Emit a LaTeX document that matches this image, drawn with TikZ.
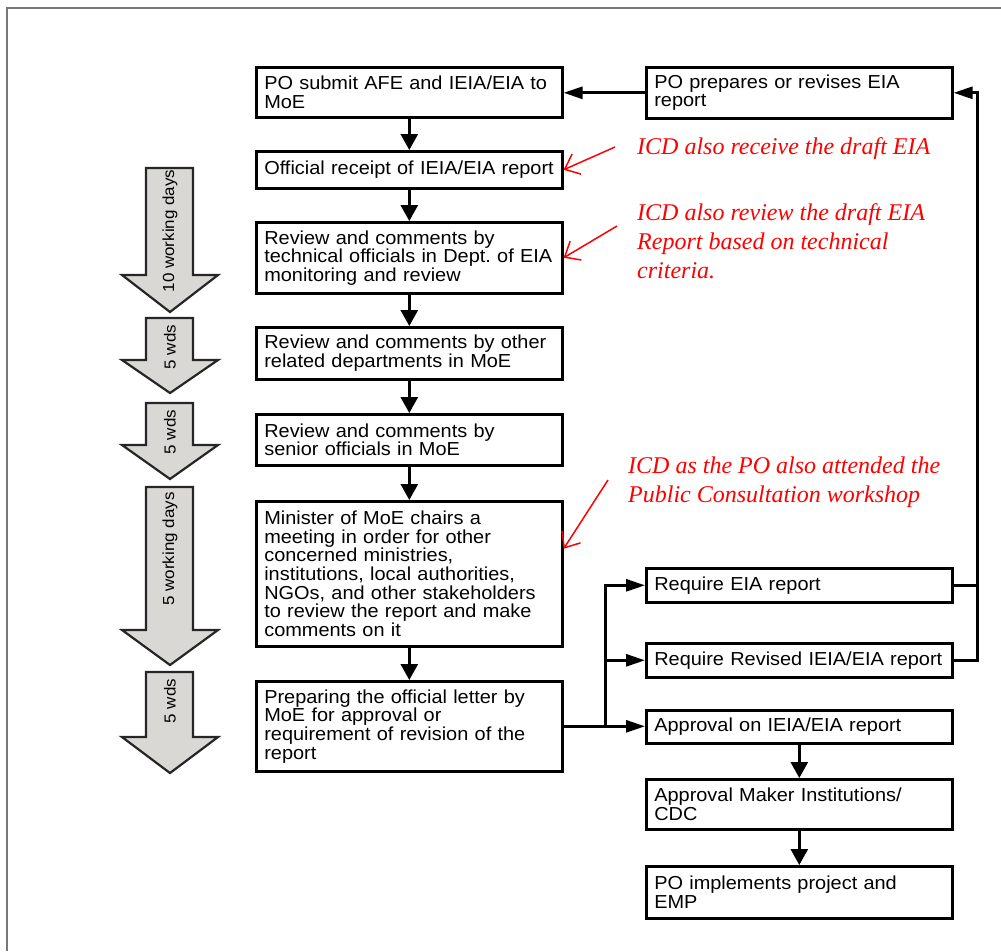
\documentclass[tikz,border=0pt]{standalone}
\usepackage{fontspec}
\setmainfont{Liberation Sans}
\newfontfamily\boxfont{Liberation Sans}[FakeStretch=1.06]
\newfontfamily\notefont{Liberation Serif}
\usetikzlibrary{arrows.meta}
\definecolor{arrowgray}{RGB}{218,216,212}
\definecolor{framegray}{RGB}{120,120,120}
\newcommand\wdarrow[3]{%
  \draw[blockarr] (146,#1) -- (193,#1) -- (193,#2) -- (218,#2) -- (170,#3) -- (122,#2) -- (146,#2) -- cycle;}
\begin{document}
\begin{tikzpicture}[x=1pt,y=-1pt,
  box/.style={draw, line width=2.6pt, minimum width=306pt, text width=290pt,
    inner xsep=8pt, inner ysep=0pt, align=left, anchor=north west,
    font=\boxfont\fontsize{18.8}{18.6}\selectfont},
  conn/.style={line width=2.8pt, -{Triangle[width=17pt,length=16pt]}},
  hconn/.style={line width=2.8pt, -{Triangle[width=12pt,length=19pt]}},
  line/.style={line width=2.8pt},
  blockarr/.style={draw=black!85, line width=2.2pt, fill=arrowgray, line join=miter},
  wdlabel/.style={rotate=90, font=\boxfont\fontsize{16}{18}\selectfont, inner sep=0pt},
  note/.style={text=red, font=\notefont\itshape\fontsize{24}{29}\selectfont, align=left, anchor=north west, inner sep=0pt},
  redarr/.style={red, line width=1.5pt, -{Straight Barb[length=13pt,width=22pt,line width=1.5pt]}}
]
\useasboundingbox (0,0) rectangle (1001,951);
\draw[framegray, line width=2pt] (1001,8) -- (7,8) -- (7,951);

% left column
\node[box, minimum height=50pt] (submit) at (255,66) {PO submit AFE and IEIA/EIA to\\MoE};
\node[box, minimum height=37pt] (receipt) at (255,150) {Official receipt of IEIA/EIA report};
\node[box, minimum height=71pt] (tech) at (255,221) {Review and comments by\\technical officials in Dept.\ of EIA\\monitoring and review};
\node[box, minimum height=52pt] (other) at (255,326) {Review and comments by other\\related departments in MoE};
\node[box, minimum height=51pt] (senior) at (255,413) {Review and comments by\\senior officials in MoE};
\node[box, minimum height=145pt] (minister) at (255,500) {Minister of MoE chairs a\\meeting in order for other\\concerned ministries,\\institutions, local authorities,\\NGOs, and other stakeholders\\to review the report and make\\comments on it};
\node[box, minimum height=90pt] (prep) at (255,680) {Preparing the official letter by\\MoE for approval or\\requirement of revision of the\\report};

% right column
\node[box, minimum height=51pt] (prepares) at (645,66) {PO prepares or revises EIA\\report};
\node[box, minimum height=34pt] (reqeia) at (645,567) {Require EIA report};
\node[box, minimum height=34pt] (reqrev) at (645,642) {Require Revised IEIA/EIA report};
\node[box, minimum height=33pt] (appr) at (645,709) {Approval on IEIA/EIA report};
\node[box, minimum height=50pt] (maker) at (645,778) {Approval Maker Institutions/\\CDC};
\node[box, minimum height=52pt] (impl) at (645,865) {PO implements project and\\EMP};

% vertical connectors
\draw[conn] (submit) -- (receipt);
\draw[conn] (receipt) -- (tech);
\draw[conn] (tech) -- (other);
\draw[conn] (other) -- (senior);
\draw[conn] (senior) -- (minister);
\draw[conn] (minister) -- (prep);
\draw[conn] (appr) -- (maker);
\draw[conn] (maker) -- (impl);

% horizontal connectors
\draw[hconn] (prepares.west) -- (submit.east |- prepares.west);
\draw[line] (prep.east) -- ++(42,0) coordinate (br);
\draw[hconn] (br) |- (reqeia.west);
\draw[hconn] (br) |- (reqrev.west);
\draw[hconn] (br) -- (appr.west |- br);
\draw[line] (reqeia.east) -- ++(24,0);
\draw[hconn] (reqrev.east) -- ++(24,0) |- (prepares.east);

% working-day arrows
\wdarrow{168}{275}{312}
\wdarrow{318}{360}{393}
\wdarrow{403}{445}{479}
\wdarrow{487}{630}{665}
\wdarrow{672}{737}{773}
\node[wdlabel] (d1) at (170,231) {10 working days};
\node[wdlabel] (d2) at (170,347) {5 wds};
\node[wdlabel] (d3) at (170,432) {5 wds};
\node[wdlabel] (d4) at (170,549) {5 working days};
\node[wdlabel] (d5) at (170,701) {5 wds};

% red notes
\node[note] (n1) at (637,137) {ICD also receive the draft EIA};
\node[note] (n2) at (637,203) {ICD also review the draft EIA\\Report based on technical\\criteria.};
\node[note] (n3) at (628,457) {ICD as the PO also attended the\\Public Consultation workshop};
\coordinate (n1s) at (615,147);
\coordinate (n2s) at (617,226);
\coordinate (n3s) at (608,480);
\draw[redarr] (n1s) -- (receipt.east);
\draw[redarr] (n2s) -- (tech.east);
\draw[redarr] (n3s) -- ([yshift=25pt]minister.east);
\end{tikzpicture}
\end{document}
